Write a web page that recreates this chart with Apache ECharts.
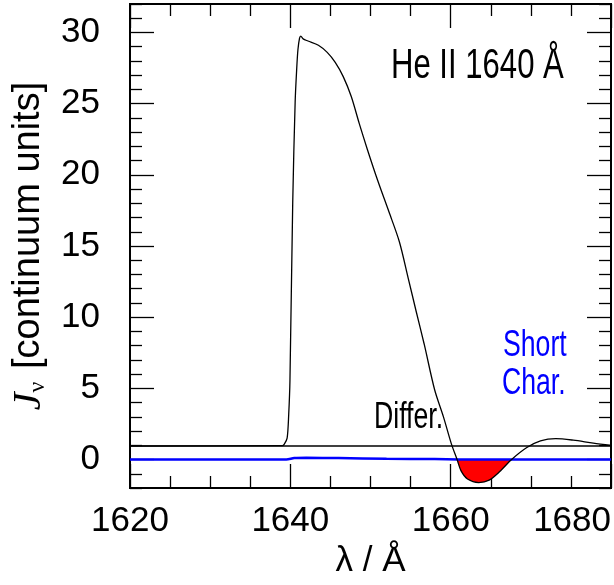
<!DOCTYPE html>
<html>
<head>
<meta charset="utf-8">
<script src="https://cdn.jsdelivr.net/npm/echarts@6/dist/echarts.min.js"></script>
<style>html,body{margin:0;padding:0;background:#fff}#c{width:614px;height:585px}</style>
</head>
<body>
<div id="c"></div>
<script>
// ---- data ----
const lambdaDiff = [1620, 1639.0, 1639.25, 1639.6, 1639.8, 1639.95, 1640.3, 1640.6, 1640.8, 1640.95, 1641.15, 1641.3, 1641.6, 1642.2, 1643.5, 1644.6, 1645.6, 1646.6, 1647.6, 1648.6, 1649.6, 1650.9, 1652.3, 1653.6, 1654.7, 1655.7, 1656.7, 1658.0, 1659.1, 1660.1, 1660.8, 1661.3, 1662.1, 1663.5, 1664.8, 1666.2, 1667.6, 1669.5, 1671.2, 1673.1, 1675.3, 1677.8, 1680];
const jDiff      = [0.95, 0.97, 1.08, 1.5, 3.2, 5.5, 18.1, 25.1, 27.5, 28.8, 29.6, 29.75, 29.55, 29.4, 29.1, 28.6, 27.9, 26.9, 25.5, 23.6, 21.8, 19.6, 17.4, 15.3, 12.75, 10.4, 8.1, 4.9, 3.0, 1.08, 0, -0.8, -1.37, -1.62, -1.45, -0.8, 0, 0.84, 1.31, 1.47, 1.36, 1.15, 1.0];
const lambdaSC   = [1620, 1639.5, 1640.5, 1642, 1646, 1652, 1658, 1662, 1680];
const jSC        = [0, 0, 0.1, 0.12, 0.1, 0.06, 0.03, 0.0, 0];
const continuumLevel = 0.95;
const xTickValues = [1620, 1640, 1660, 1680];
const yTickValues = [0, 5, 10, 15, 20, 25, 30];
const yRange = [-2, 32];

// ---- build ----
const diffData = lambdaDiff.map((x, i) => [x, jDiff[i]]);
const scData = lambdaSC.map((x, i) => [x, jSC[i]]);
const negData = diffData.filter(p => p[1] <= 0 && p[0] > 1650);
const contData = [[xTickValues[0], continuumLevel], [xTickValues[xTickValues.length - 1], continuumLevel]];
const yMinor = [];
for (let v = Math.ceil(yRange[0]); v <= yRange[1]; v++) if (yTickValues.indexOf(v) < 0) yMinor.push(v);

const FONT = 'Liberation Sans, Arial, Helvetica, sans-serif';
const tickStyle = { color: '#000', width: 1.3 };

function xAx(pos, labels) {
  return {
    type: 'value', position: pos,
    min: xTickValues[0], max: xTickValues[xTickValues.length - 1],
    interval: xTickValues[1] - xTickValues[0],
    axisLine: { show: false, onZero: false },
    axisTick: { show: true, inside: true, length: 24, lineStyle: tickStyle },
    minorTick: { show: true, splitNumber: 4, length: 12, lineStyle: tickStyle },
    splitLine: { show: false }, minorSplitLine: { show: false },
    axisLabel: labels ? { show: true, fontSize: 35, fontFamily: FONT, color: '#000', margin: 16, alignMaxLabel: 'right', formatter: v => String(v) } : { show: false },
    name: labels ? 'λ / Å' : '', nameLocation: 'middle', nameGap: 38,
    nameTextStyle: { fontSize: 35, fontFamily: FONT, color: '#000' }
  };
}
function yAx(pos, major, withLabels) {
  const o = {
    type: 'value', position: pos, min: yRange[0], max: yRange[1],
    axisLine: { show: false, onZero: false },
    axisTick: { show: true, inside: true, length: major ? 24 : 12, lineStyle: tickStyle, customValues: major ? yTickValues : yMinor },
    splitLine: { show: false },
    axisLabel: withLabels ? { show: true, customValues: yTickValues, fontSize: 35, fontFamily: FONT, color: '#000', margin: 30 } : { show: false }
  };
  if (withLabels) {
    o.name = '{j|J}{nu|ν} [continuum units]';
    o.nameLocation = 'middle';
    o.nameGap = 80;
    o.nameTextStyle = {
      fontSize: 38, fontFamily: FONT, color: '#000',
      rich: {
        j: { fontSize: 40, fontFamily: 'Liberation Serif, serif', fontStyle: 'italic', color: '#000' },
        nu: { fontSize: 24, fontFamily: 'Liberation Serif, serif', color: '#000', verticalAlign: 'bottom', padding: [18, 2, 0, 0] }
      }
    };
  }
  return o;
}

const chart = echarts.init(document.getElementById('c'), null, { renderer: 'canvas' });
chart.setOption({
  animation: false,
  backgroundColor: '#fff',
  grid: { left: 130, right: 1, top: 4, bottom: 97, show: true, borderColor: '#000', borderWidth: 2, backgroundColor: 'transparent' },
  xAxis: [xAx('bottom', true), xAx('top', false)],
  yAxis: [yAx('left', true, true), yAx('left', false, false), yAx('right', true, false), yAx('right', false, false)],
  series: [
    { type: 'line', data: negData, symbol: 'none', smooth: 0.3, lineStyle: { width: 0 }, areaStyle: { color: '#ff0000', opacity: 1, origin: 0 }, z: 1 },
    { type: 'line', data: contData, symbol: 'none', lineStyle: { color: '#000', width: 1.5 }, z: 2 },
    { type: 'line', data: scData, symbol: 'none', smooth: 0.3, lineStyle: { color: '#0000ff', width: 2.5 }, z: 3 },
    { type: 'line', data: diffData, symbol: 'none', smooth: 0.3, lineStyle: { color: '#000', width: 1.3 }, z: 4 }
  ],
  graphic: [
    { type: 'text', x: 391, y: 66, scaleX: 0.74, style: { text: 'He II 1640 Å', font: '42px ' + FONT, fill: '#000', align: 'left', verticalAlign: 'middle' } },
    { type: 'text', x: 503, y: 346, scaleX: 0.74, style: { text: 'Short', font: '36px ' + FONT, fill: '#0000ff', align: 'left', verticalAlign: 'middle' } },
    { type: 'text', x: 502, y: 384, scaleX: 0.74, style: { text: 'Char.', font: '36px ' + FONT, fill: '#0000ff', align: 'left', verticalAlign: 'middle' } },
    { type: 'text', x: 374, y: 418, scaleX: 0.74, style: { text: 'Differ.', font: '36px ' + FONT, fill: '#000', align: 'left', verticalAlign: 'middle' } }
  ]
});
</script>
</body>
</html>
